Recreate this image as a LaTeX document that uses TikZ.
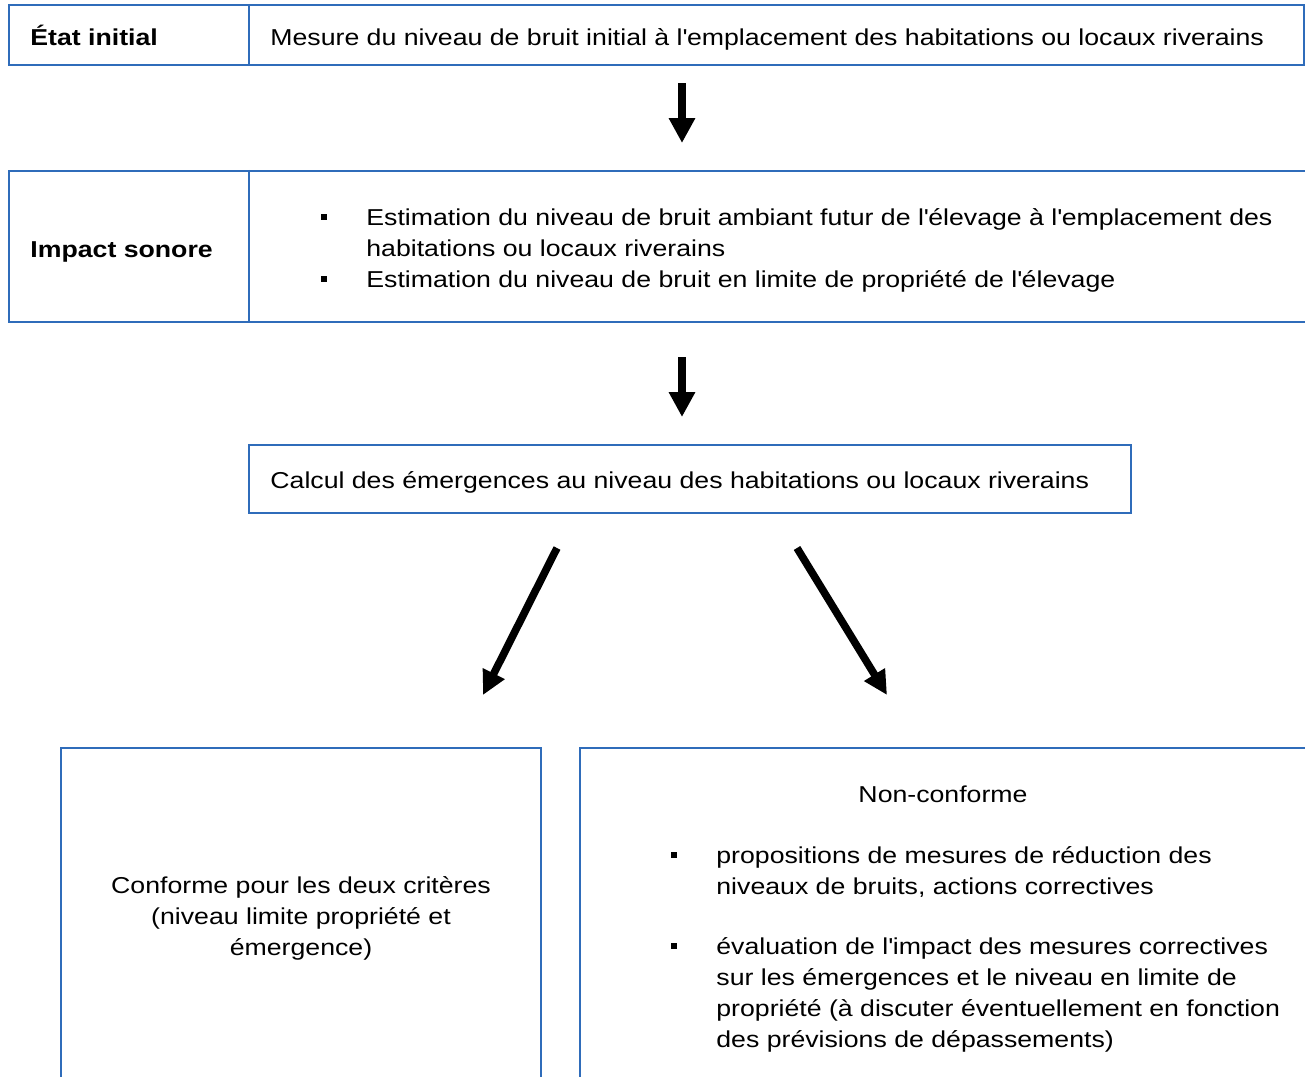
\documentclass[tikz,border=0pt]{standalone}
\usepackage{fontspec}
\setmainfont{Liberation Sans}[FakeStretch=1.16]
\usetikzlibrary{arrows.meta}
\definecolor{boxblue}{RGB}{47,108,186}
\tikzset{
  box/.style={draw=boxblue, line width=1.25pt, inner sep=0pt, fill=none},
  txt/.style={inner sep=0pt, font=\fontsize{11.5}{15.5}\selectfont},
  btxt/.style={inner sep=0pt, font=\fontsize{11.5}{15.5}\selectfont\bfseries},
  bigarrow/.style={line width=4.3pt, -{Triangle[width=12.5pt,length=12.5pt]}},
  diagarrow/.style={line width=3.8pt, -{Triangle[width=11.5pt,length=12pt]}}
}
\newcommand{\sqbul}{\llap{\rule[2.6pt]{3pt}{3pt}\hspace{19.5pt}}}
\newcommand{\ap}{\textquotesingle}
\begin{document}
\begin{tikzpicture}[x=0.5pt,y=-0.5pt]
\useasboundingbox (0,0) rectangle (1305,1076);
\clip (0,0) rectangle (1305,1076);
% top row
\node[box, minimum width=1295*0.5pt, minimum height=60*0.5pt] (top) at (656.5,35) {};
\draw[boxblue, line width=1.25pt] (top.north west -| 249,0) -- (top.south west -| 249,0);
\node[btxt, anchor=base west] (t1) at (30,45) {État initial};
\node[txt, anchor=base west] (t2) at (270,45) {Mesure du niveau de bruit initial à l\ap emplacement des habitations ou locaux riverains};
% impact row
\node[box, minimum width=1310*0.5pt, minimum height=151*0.5pt] (imp) at (664,246.5) {};
\draw[boxblue, line width=1.25pt] (imp.north west -| 249,0) -- (imp.south west -| 249,0);
\node[btxt, anchor=base west] (t3) at (30,257) {Impact sonore};
\node[txt, anchor=base west, align=left] (t4) at (366,256) {\sqbul Estimation du niveau de bruit ambiant futur de l\ap élevage à l\ap emplacement des\\habitations ou locaux riverains};
\node[txt, anchor=base west] (t5) at (366,287) {\sqbul Estimation du niveau de bruit en limite de propriété de l\ap élevage};
% calc
\node[box, minimum width=882*0.5pt, minimum height=68*0.5pt] (calc) at (690,479) {};
\node[txt, anchor=base west] (t6) at (270,488) {Calcul des émergences au niveau des habitations ou locaux riverains};
% bottom boxes
\node[box, minimum width=480*0.5pt, minimum height=350*0.5pt] (conf) at (301,923) {};
\node[box, minimum width=740*0.5pt, minimum height=350*0.5pt] (nonc) at (950,923) {};
\node[txt, anchor=base, align=center] (t7) at (301,955) {Conforme pour les deux critères\\(niveau limite propriété et\\émergence)};
\node[txt, anchor=base] (t8) at (943,802) {Non-conforme};
\node[txt, anchor=base west, align=left] (t9) at (716,894) {\sqbul propositions de mesures de réduction des\\niveaux de bruits, actions correctives};
\node[txt, anchor=base west, align=left] (t10) at (716,1047) {\sqbul évaluation de l\ap impact des mesures correctives\\sur les émergences et le niveau en limite de\\propriété (à discuter éventuellement en fonction\\des prévisions de dépassements)};
% arrows
\coordinate (a1s) at (682,83);
\coordinate (a1e) at (682,143);
\coordinate (a2s) at (682,357);
\coordinate (a2e) at (682,417);
\coordinate (a3s) at (557,548);
\coordinate (a3e) at (483,695);
\coordinate (a4s) at (797,548);
\coordinate (a4e) at (887,695);
\draw[bigarrow] (a1s) -- (a1e);
\draw[bigarrow] (a2s) -- (a2e);
\draw[diagarrow] (a3s) -- (a3e);
\draw[diagarrow] (a4s) -- (a4e);
\end{tikzpicture}
\end{document}
